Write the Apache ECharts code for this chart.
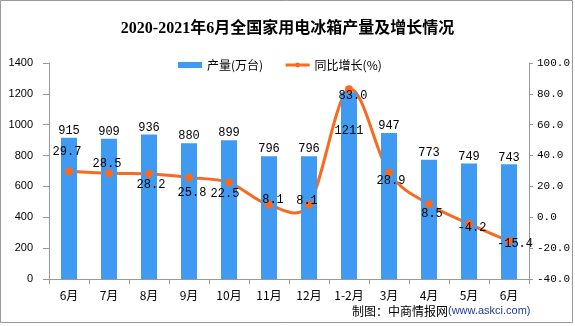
<!DOCTYPE html>
<html><head><meta charset="utf-8">
<script src="https://cdn.jsdelivr.net/npm/echarts@6/dist/echarts.min.js"></script>
<style>html,body{margin:0;padding:0;background:#fff}#c{width:575px;height:326px}</style>
</head><body><div id="c"></div>
<script>
var categories = ['6月','7月','8月','9月','10月','11月','12月','1-2月','3月','4月','5月','6月'];
var output = [915, 909, 936, 880, 899, 796, 796, 1211, 947, 773, 749, 743];
var growth = [29.7, 28.5, 28.2, 25.8, 22.5, 8.1, 8.1, 83.0, 28.9, 8.5, -4.2, -15.4];
var leftTicks = [0, 1400, 200];
var rightTicks = [-40, 100, 20];

var growthOffsets = [[-2,-20],[-2,-9],[2,11],[3,15],[-4,11],[4,-5],[-2,-4],[4,7],[2,8],[3,10],[3,4],[6,3]];
var mono = 'Liberation Mono, DejaVu Sans Mono, monospace';
var lineColor = '#FA6A1E';

function dist(a, b){ var dx = a[0]-b[0], dy = a[1]-b[1]; return Math.sqrt(dx*dx+dy*dy); }

function renderCurve(params, api){
  var i = params.dataIndex, n = growth.length;
  if (i >= n - 1) return null;
  function pt(j){ j = Math.max(0, Math.min(n-1, j)); return api.coord([j, growth[j]]); }
  var p0 = pt(i-1), p1 = pt(i), p2 = pt(i+1), p3 = pt(i+2);
  var d12 = dist(p1, p2), d02 = dist(p0, p2), d13 = dist(p1, p3);
  var f0 = (d02/6 < d12/2) ? 1/6 : d12/(2*d02);
  var f1 = (d13/6 < d12/2) ? 1/6 : d12/(2*d13);
  if (!isFinite(f0)) f0 = 0; if (!isFinite(f1)) f1 = 0;
  return {
    type: 'bezierCurve',
    shape: {
      x1: p1[0], y1: p1[1], x2: p2[0], y2: p2[1],
      cpx1: p1[0] + (p2[0]-p0[0])*f0, cpy1: p1[1] + (p2[1]-p0[1])*f0,
      cpx2: p2[0] - (p3[0]-p1[0])*f1, cpy2: p2[1] - (p3[1]-p1[1])*f1
    },
    style: {stroke: lineColor, lineWidth: 3, fill: null}
  };
}

var chart = echarts.init(document.getElementById('c'), null, {renderer:'canvas'});
chart.setOption({
  animation: false,
  backgroundColor: '#fff',
  title: {
    text: '2020-2021年6月全国家用电冰箱产量及增长情况',
    left: 'center', top: 16,
    textStyle: {fontSize: 16, fontWeight: 'bold', color: '#000', fontFamily: 'Liberation Serif, Noto Sans CJK SC, serif'}
  },
  legend: {
    top: 54, left: 173,
    itemWidth: 24, itemHeight: 6, itemGap: 21,
    textStyle: {fontSize: 12, color: '#000', fontFamily: 'Noto Sans CJK SC, sans-serif'},
    data: [{name: '产量(万台)', icon: 'rect'},
           {name: '同比增长(%)', lineStyle: {opacity: 1, width: 3, color: lineColor}}]
  },
  grid: {left: 49, right: 46, top: 63, bottom: 47},
  xAxis: {
    type: 'category', data: categories,
    axisLine: {lineStyle: {color: '#999'}},
    axisTick: {show: true, length: 5, lineStyle: {color: '#999'}},
    axisLabel: {color: '#000', fontSize: 12, margin: 10, fontFamily: 'Noto Sans CJK SC, sans-serif'}
  },
  yAxis: [{
    type: 'value', min: leftTicks[0], max: leftTicks[1], interval: leftTicks[2],
    axisLine: {show: true, lineStyle: {color: '#999'}},
    axisTick: {show: true, length: 6, lineStyle: {color: '#999'}},
    splitLine: {show: false},
    axisLabel: {color: '#000', fontSize: 11, margin: 16, fontFamily: 'Liberation Sans, sans-serif',
      formatter: function(v){ return String(v); }}
  }, {
    type: 'value', min: rightTicks[0], max: rightTicks[1], interval: rightTicks[2],
    position: 'right',
    axisLine: {show: true, lineStyle: {color: '#999'}},
    axisTick: {show: true, length: 4, lineStyle: {color: '#999'}},
    splitLine: {show: false},
    axisLabel: {color: '#000', fontSize: 11, margin: 8, fontFamily: mono,
      formatter: function(v){ return v.toFixed(1); }}
  }],
  series: [{
    name: '产量(万台)', type: 'bar', yAxisIndex: 0, barWidth: '40%',
    itemStyle: {color: '#3E9BF1'},
    label: {show: true, position: 'top', distance: 1, color: '#000', fontSize: 12, fontFamily: mono},
    data: output.map(function(v, i){
      if (categories[i] === '1-2月') {
        return {value: v, label: {position: 'insideTop', offset: [0, 32]}};
      }
      return v;
    })
  }, {
    name: 'curve', type: 'custom', yAxisIndex: 1, z: 2,
    renderItem: renderCurve,
    encode: {x: 0, y: 1},
    silent: true,
    data: growth.map(function(v, i){ return [i, v]; })
  }, {
    name: '同比增长(%)', type: 'line', yAxisIndex: 1,
    symbol: 'circle', symbolSize: 8,
    lineStyle: {color: lineColor, width: 3, opacity: 0},
    itemStyle: {color: lineColor},
    label: {show: true, position: 'inside', color: '#000', fontSize: 12, fontFamily: mono,
      formatter: function(p){ return p.value.toFixed(1); }},
    data: growth.map(function(v, i){
      return {value: v, label: {offset: growthOffsets[i]}};
    }),
    z: 3
  }],
  graphic: [{
    type: 'rect', shape: {x: 0.5, y: 0.5, width: 572, height: 322},
    style: {fill: 'none', stroke: '#999', lineWidth: 1}, silent: true
  }, {
    type: 'text', left: 352, top: 305,
    style: {
      text: '{a|制图：中商情报网}{b|(www.askci.com)}',
      rich: {
        a: {fontSize: 12, fill: '#000', fontFamily: 'Noto Sans CJK SC, sans-serif'},
        b: {fontSize: 11, fill: '#1F3A93', fontFamily: 'Liberation Sans, sans-serif'}
      }
    }
  }]
});
</script></body></html>
